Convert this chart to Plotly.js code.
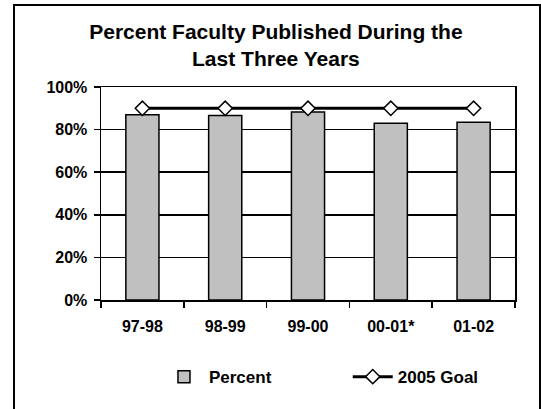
<!DOCTYPE html>
<html>
<head>
<meta charset="utf-8">
<script src="https://cdn.plot.ly/plotly-3.0.1.min.js"></script>
<style>
html,body{margin:0;padding:0;background:#fff;}
#wrap{position:relative;width:541px;height:409px;overflow:hidden;}
#chart{width:541px;height:409px;}
#frame{position:absolute;left:13px;top:4px;width:524px;height:420px;border:2px solid #000;pointer-events:none;}
</style>
</head>
<body>
<div id="wrap"><div id="chart"></div><div id="frame"></div></div>
<script>
const categories = ["97-98", "98-99", "99-00", "00-01*", "01-02"];
const percentValues = [0.87, 0.866, 0.883, 0.83, 0.834];
const goalValues = [0.90, 0.90, 0.90, 0.90, 0.90];
const yTickVals = [0, 0.2, 0.4, 0.6, 0.8, 1.0];
const yTickText = ["0%", "20%", "40%", "60%", "80%", "100%"];

const font = "Liberation Sans, Arial, sans-serif";

const traces = [
  {
    type: "bar",
    name: "<b>Percent</b>",
    x: categories,
    y: percentValues,
    marker: {color: "#c0c0c0", line: {color: "#000", width: 1.5}},
    legend: "legend",
    hoverinfo: "skip"
  },
  {
    type: "scatter",
    mode: "lines+markers",
    name: "<b>2005 Goal</b>",
    x: categories,
    y: goalValues,
    line: {color: "#000", width: 3},
    marker: {symbol: "diamond", size: 11, color: "#fff", line: {color: "#000", width: 1.5}},
    legend: "legend2",
    hoverinfo: "skip"
  }
];

const legendBase = {
  orientation: "h",
  xanchor: "left",
  yref: "container",
  y: 0.078, yanchor: "middle",
  font: {family: font, size: 17, color: "#000"},
  bgcolor: "rgba(0,0,0,0)"
};

const layout = {
  width: 541,
  height: 409,
  margin: {l: 101, r: 26, t: 87, b: 109},
  paper_bgcolor: "#fff",
  plot_bgcolor: "#fff",
  font: {family: font, color: "#000", size: 16},
  title: {
    text: "<b>Percent Faculty Published During the<br>Last Three Years</b>",
    font: {family: font, size: 21, color: "#000"},
    x: 0.51, xref: "container", xanchor: "center",
    y: 0.905, yref: "container", yanchor: "top"
  },
  bargap: 0.6,
  xaxis: {
    type: "category", automargin: false,
    showline: true, linecolor: "#000", linewidth: 1.5, mirror: true,
    ticks: "outside", tickson: "boundaries", ticklen: 6, tickwidth: 1.5, tickcolor: "#000",
    tickfont: {family: font, size: 16, color: "#000"},
    tickprefix: "<b>", ticksuffix: "</b>",
    ticklabelstandoff: 11,
    showgrid: false, zeroline: false
  },
  yaxis: {
    range: [0, 1], automargin: false,
    tickvals: yTickVals, ticktext: yTickText.map(t => "<b>" + t + "</b>"),
    showline: true, linecolor: "#000", linewidth: 1.5, mirror: true,
    ticks: "outside", ticklen: 6, tickwidth: 1.5, tickcolor: "#000",
    ticklabelstandoff: 3,
    tickfont: {family: font, size: 16, color: "#000"},
    showgrid: true, gridcolor: "#000", gridwidth: 1.5, zeroline: false
  },
  showlegend: true,
  legend: Object.assign({}, legendBase, {x: 0.14, itemwidth: 40}),
  legend2: Object.assign({}, legendBase, {x: 0.596, itemwidth: 40})
};

Plotly.newPlot("chart", traces, layout, {staticPlot: true, displayModeBar: false});
</script>
</body>
</html>
